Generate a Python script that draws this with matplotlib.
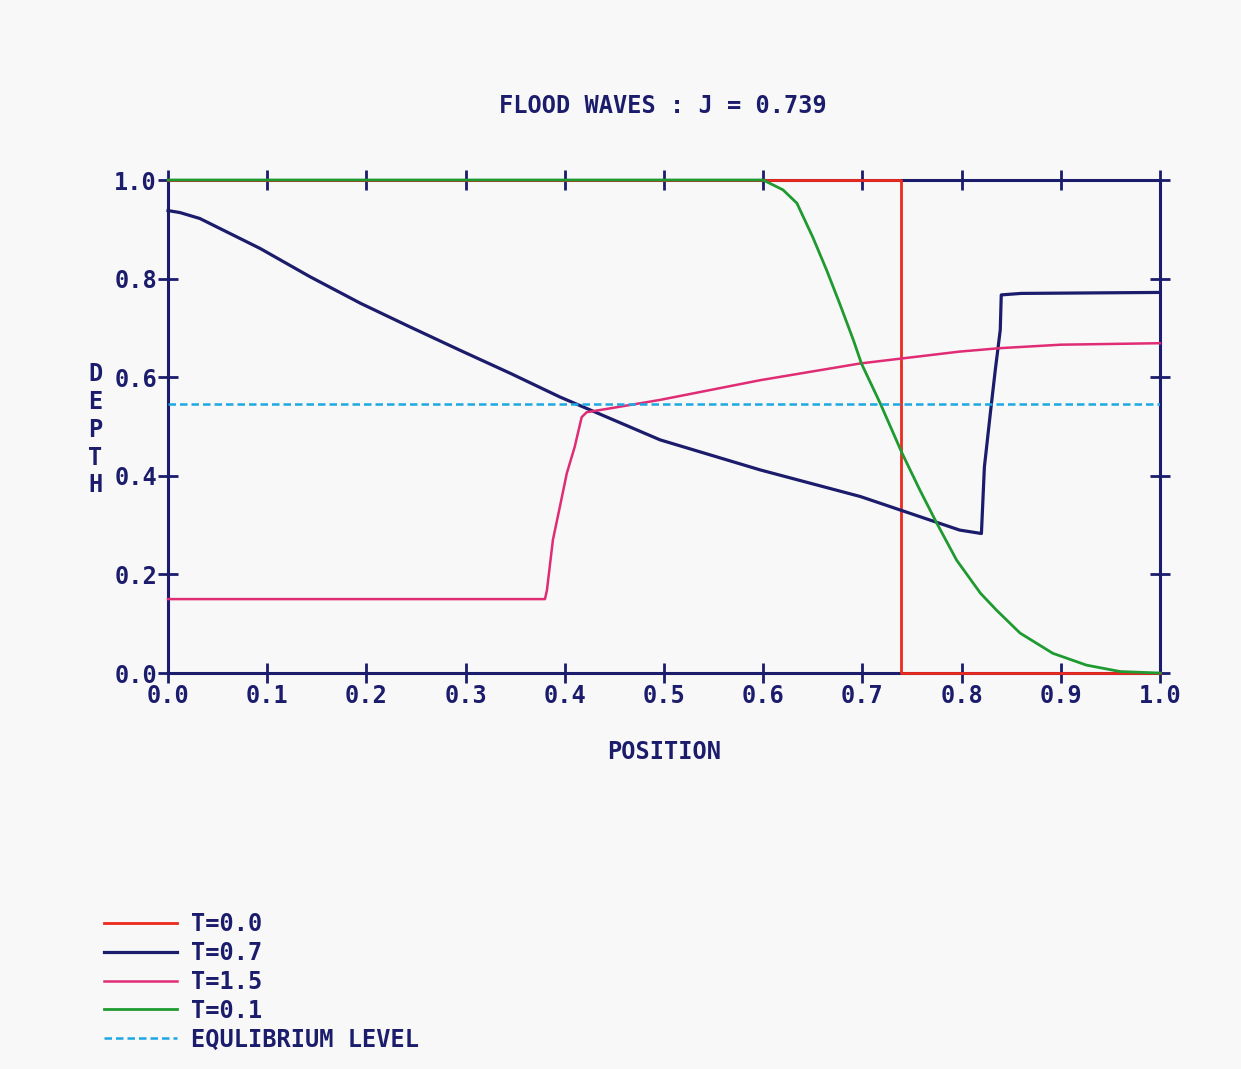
import matplotlib
matplotlib.use("Agg")
import matplotlib.pyplot as plt

# depth profiles
x_t00 = [0.0, 0.739, 0.739, 1.0]
y_t00 = [1.0, 1.0, 0.0, 0.0]

x_t07 = [0.0, 0.012, 0.032, 0.093, 0.143, 0.194, 0.244, 0.294, 0.345, 0.395,
         0.496, 0.597, 0.698, 0.798, 0.820, 0.823, 0.829, 0.834, 0.839, 0.840,
         0.860, 1.0]
y_t07 = [0.938, 0.934, 0.922, 0.861, 0.804, 0.750, 0.702, 0.655, 0.608, 0.560,
         0.473, 0.412, 0.358, 0.290, 0.283, 0.418, 0.527, 0.615, 0.696, 0.767,
         0.770, 0.772]

x_t15 = [0.0, 0.380, 0.382, 0.388, 0.395, 0.402, 0.410, 0.417, 0.422, 0.446,
         0.496, 0.597, 0.698, 0.798, 0.839, 0.900, 1.0]
y_t15 = [0.150, 0.150, 0.168, 0.270, 0.337, 0.405, 0.459, 0.519, 0.529, 0.537,
         0.554, 0.594, 0.628, 0.652, 0.659, 0.666, 0.669]

x_t01 = [0.0, 0.600, 0.620, 0.634, 0.650, 0.664, 0.677, 0.691, 0.699, 0.718,
         0.740, 0.758, 0.775, 0.795, 0.819, 0.835, 0.859, 0.892, 0.926, 0.960, 1.0]
y_t01 = [1.0, 1.0, 0.980, 0.953, 0.884, 0.817, 0.750, 0.675, 0.628, 0.547,
         0.446, 0.371, 0.304, 0.229, 0.162, 0.128, 0.081, 0.040, 0.016, 0.003, 0.0]

equilibrium = 0.546
ticks = [0.0, 0.1, 0.2, 0.3, 0.4, 0.5, 0.6, 0.7, 0.8, 0.9, 1.0]
yticks = [0.0, 0.2, 0.4, 0.6, 0.8, 1.0]

navy = "#1c1c6c"
bg = "#f8f8f8"
font = {"family": "DejaVu Sans Mono", "weight": "bold", "size": 17, "color": navy}

fig = plt.figure(figsize=(12.41, 10.69), dpi=100, facecolor=bg)
ax = fig.add_axes([0.1354, 0.3704, 0.7993, 0.4612], facecolor=bg)

ax.plot(x_t00, y_t00, color="#ec2a1e", lw=2, label="T=0.0", clip_on=False, zorder=3)
ax.plot(x_t07, y_t07, color=navy, lw=2.3, label="T=0.7", clip_on=False, zorder=3)
ax.plot(x_t15, y_t15, color="#e02c74", lw=1.8, label="T=1.5", clip_on=False, zorder=3)
ax.plot(x_t01, y_t01, color="#1e9a30", lw=2, label="T=0.1", clip_on=False, zorder=3)
ax.plot([0, 1], [equilibrium, equilibrium], color="#1ea8e2", lw=1.8,
        dashes=(3, 1.6), label="EQULIBRIUM LEVEL", zorder=3)

ax.set_xlim(0, 1)
ax.set_ylim(0, 1)
ax.set_xticks(ticks)
ax.set_yticks(yticks)
ax.set_xticklabels([f"{t:.1f}" for t in ticks])
ax.set_yticklabels([f"{t:.1f}" for t in yticks])
ax.tick_params(direction="inout", length=14, width=2, color=navy,
               top=True, right=True, pad=1)
for lab in ax.get_xticklabels() + ax.get_yticklabels():
    lab.set_fontfamily("DejaVu Sans Mono")
    lab.set_fontweight("bold")
    lab.set_fontsize(17)
    lab.set_color(navy)
for sp in ax.spines.values():
    sp.set_color(navy)
    sp.set_linewidth(2.2)

fig.text(0.534, 0.901, "FLOOD WAVES : J = 0.739", ha="center", va="center", **font)
fig.text(0.535, 0.2965, "POSITION", ha="center", va="center", **font)
fig.text(0.0766, 0.598, "D\nE\nP\nT\nH", ha="center", va="center",
         linespacing=1.2, **font)

leg = fig.legend(loc="upper left", bbox_to_anchor=(0.0838, 0.147), frameon=False,
                 borderpad=0, borderaxespad=0, handlelength=3.1, handletextpad=0.6,
                 labelspacing=0.21, prop={"family": "DejaVu Sans Mono",
                                          "weight": "bold", "size": 17})
for t in leg.get_texts():
    t.set_color(navy)

fig.savefig("out.png", dpi=100, facecolor=bg)
